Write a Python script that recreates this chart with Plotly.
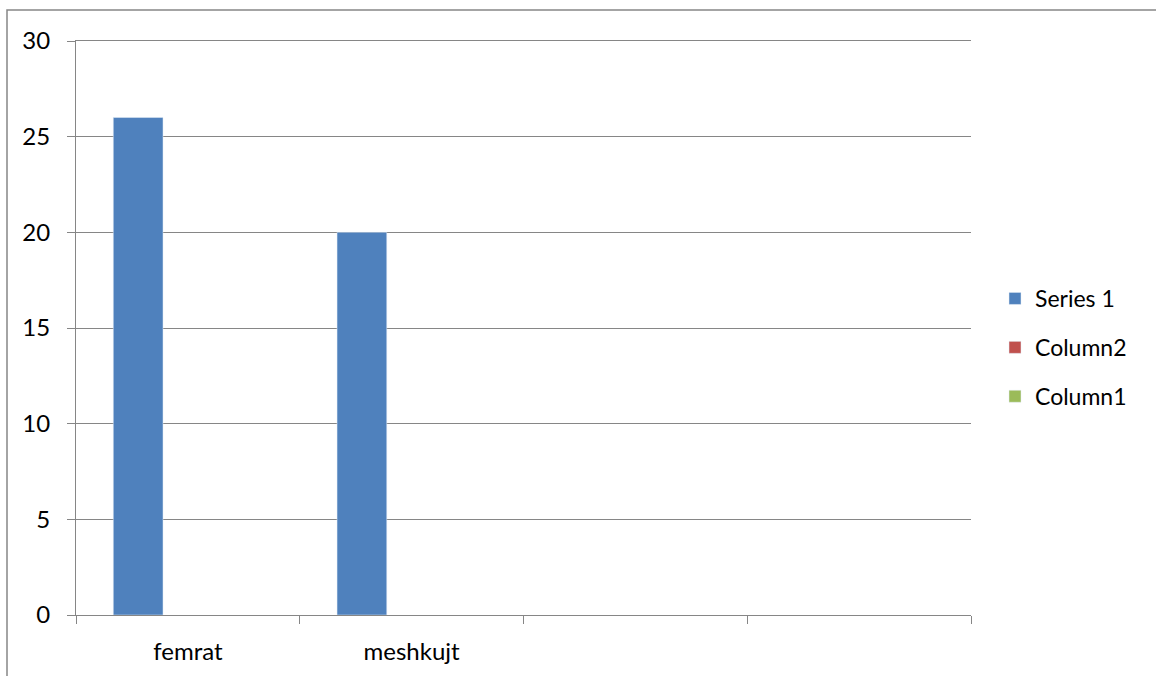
import plotly.graph_objects as go

categories = ["femrat", "meshkujt", " ", "  "]
series1 = [26, 20, None, None]
column2 = [None, None, None, None]
column1 = [None, None, None, None]

FONT = "Lato"
GRID = "#868686"
FS = 24

fig = go.Figure()
fig.add_trace(go.Bar(name="Series 1", x=categories, y=series1, marker_color="#4F81BD", legendgroup="a"))
fig.add_trace(go.Bar(name="Column2", x=categories, y=column2, marker_color="#C0504D", legendgroup="b"))
fig.add_trace(go.Bar(name="Column1", x=categories, y=column1, marker_color="#9BBB59", legendgroup="c"))

W, H = 1156, 676
L, R, T, B = 76, 971, 41, 615
pw, ph = R - L, B - T

def px(x):
    return (x - L) / pw

def py(y):
    return (B - y) / ph

fig.update_layout(
    width=W, height=H,
    margin=dict(l=L, r=W - R, t=T, b=H - B, pad=0),
    paper_bgcolor="white", plot_bgcolor="white",
    barmode="group", bargap=1.5 / 4.5, bargroupgap=0,
    font=dict(family=FONT, size=FS, color="black"),
    showlegend=True,
    legend=dict(x=px(995), y=py(277), xanchor="left", yanchor="top",
                traceorder="grouped", tracegroupgap=16,
                font=dict(family=FONT, size=FS - 1, color="black"),
                itemwidth=30),
    xaxis=dict(type="category", categoryorder="array", categoryarray=categories,
               range=[-0.5, 3.5], showgrid=False, showline=True, linecolor=GRID, linewidth=1,
               mirror=True,
               ticks="outside", tickson="boundaries", ticklen=8, tickcolor=GRID,
               ticklabelstandoff=15,
               tickfont=dict(family=FONT, size=FS, color="black"), fixedrange=True),
    yaxis=dict(range=[0, 30], tickvals=[0, 5, 10, 15, 20, 25, 30], showgrid=True, gridcolor=GRID,
               gridwidth=1, showline=True, linecolor=GRID, linewidth=1, zeroline=False,
               ticks="outside", ticklen=8, tickcolor=GRID, ticklabelstandoff=12,
               tickfont=dict(family=FONT, size=FS, color="black"), fixedrange=True),
    shapes=[dict(type="rect", xref="paper", yref="paper",
                 x0=px(7), x1=px(1200), y0=py(720), y1=py(10),
                 line=dict(color=GRID, width=1.5), fillcolor="rgba(0,0,0,0)", layer="below")],
)

fig.write_html("out.html", config=dict(displayModeBar=False))
